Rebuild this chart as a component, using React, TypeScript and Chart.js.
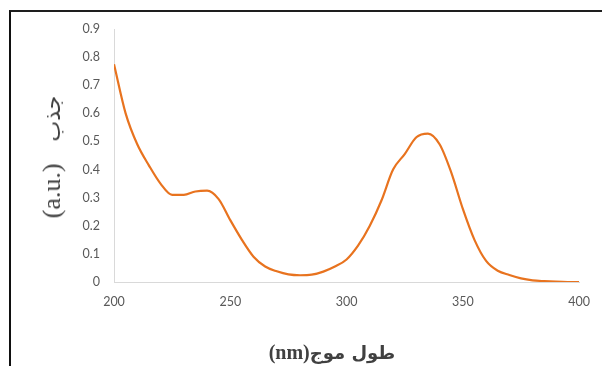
import React, { useEffect, useRef } from "react";
import { Chart, registerables } from "chart.js";

Chart.register(...registerables);

const wavelengths = [
  200, 205, 210, 215, 220, 225, 230, 235, 240, 245, 250, 255, 260, 265, 270,
  275, 280, 285, 290, 295, 300, 305, 310, 315, 320, 325, 330, 335, 340, 345,
  350, 355, 360, 365, 370, 375, 380, 385, 390, 395, 400,
];
const absorbance = [
  0.775, 0.6, 0.49, 0.415, 0.35, 0.31, 0.31, 0.322, 0.325, 0.295, 0.22, 0.15,
  0.09, 0.055, 0.038, 0.027, 0.024, 0.026, 0.037, 0.055, 0.08, 0.13, 0.2,
  0.29, 0.4, 0.455, 0.515, 0.528, 0.49, 0.39, 0.26, 0.15, 0.075, 0.04,
  0.025, 0.013, 0.006, 0.003, 0.001, 0, 0,
];
const xTitleUnit = "(nm)";
const xTitleArabic = "طول موج";
const yTitleLatin = "(a.u.)";
const yTitleArabic = "جذب";

const W = 602;
const H = 366;
const AREA = { left: 114, right: 580, top: 29, bottom: 282 };
const tickFont = { family: "Lato, 'Open Sans', sans-serif", size: 12.5 };
const tickColor = "#595959";
const axisColor = "#d9d9d9";
const lineColor = "#E8731F";

export default function App() {
  const canvasRef = useRef<HTMLCanvasElement | null>(null);

  useEffect(() => {
    const canvas = canvasRef.current;
    if (!canvas) return;
    const data = wavelengths.map((x, i) => ({ x, y: absorbance[i] }));
    const chart = new Chart(canvas, {
      type: "line",
      data: {
        datasets: [
          {
            data,
            borderColor: lineColor,
            borderWidth: 2.2,
            pointRadius: 0,
            fill: false,
            cubicInterpolationMode: "monotone",
          },
        ],
      },
      options: {
        animation: false,
        responsive: false,
        devicePixelRatio: 1,
        layout: {
          padding: { top: AREA.top, right: W - AREA.right, left: 0, bottom: 0 },
        },
        plugins: { legend: { display: false }, tooltip: { enabled: false } },
        scales: {
          x: {
            type: "linear",
            min: 200,
            max: 400,
            afterFit: (s: any) => {
              s.height = H - AREA.bottom;
            },
            ticks: {
              stepSize: 50,
              padding: 12,
              color: tickColor,
              font: tickFont,
              maxRotation: 0,
            },
            grid: { display: false, drawTicks: false },
            border: { display: true, color: axisColor, width: 1 },
          },
          y: {
            type: "linear",
            min: 0,
            max: 0.9,
            afterFit: (s: any) => {
              s.width = AREA.left;
            },
            ticks: {
              stepSize: 0.1,
              padding: 14,
              color: tickColor,
              font: tickFont,
            },
            grid: { display: false, drawTicks: false },
            border: { display: true, color: axisColor, width: 1 },
          },
        },
      },
    });
    return () => chart.destroy();
  }, []);

  return (
    <div
      style={{
        position: "fixed",
        left: 0,
        top: 0,
        width: W,
        height: H,
        overflow: "hidden",
        background: "#fff",
      }}
    >
      <div
        style={{
          position: "absolute",
          left: 9,
          top: 10,
          width: 800,
          height: 600,
          borderTop: "2px solid #1e1e1e",
          borderLeft: "2px solid #111",
        }}
      />
      <canvas
        ref={canvasRef}
        width={W}
        height={H}
        style={{ position: "absolute", left: 0, top: 0, width: W, height: H }}
      />
      <div
        style={{
          position: "absolute",
          left: 52,
          top: 157,
          transform: "translate(-50%, -50%) rotate(-90deg)",
          whiteSpace: "nowrap",
          fontFamily: "'Liberation Serif', 'DejaVu Serif', serif",
          fontSize: 26,
          color: "#404040",
          display: "flex",
          alignItems: "center",
          direction: "ltr",
        }}
      >
        <span>{yTitleLatin}</span>
        <span
          style={{
            marginLeft: 22,
            fontFamily: "'DejaVu Sans', sans-serif",
            fontSize: 22,
          }}
        >
          {yTitleArabic}
        </span>
      </div>
      <div
        style={{
          position: "absolute",
          left: 332,
          top: 352,
          transform: "translate(-50%, -50%)",
          whiteSpace: "nowrap",
          color: "#404040",
          display: "flex",
          alignItems: "baseline",
          direction: "ltr",
        }}
      >
        <span
          style={{
            fontFamily: "'Liberation Serif', serif",
            fontWeight: "bold",
            fontSize: 20,
          }}
        >
          {xTitleUnit}
        </span>
        <span
          style={{
            fontFamily: "'DejaVu Sans', sans-serif",
            fontWeight: "bold",
            fontSize: 18,
          }}
        >
          {xTitleArabic}
        </span>
      </div>
    </div>
  );
}
